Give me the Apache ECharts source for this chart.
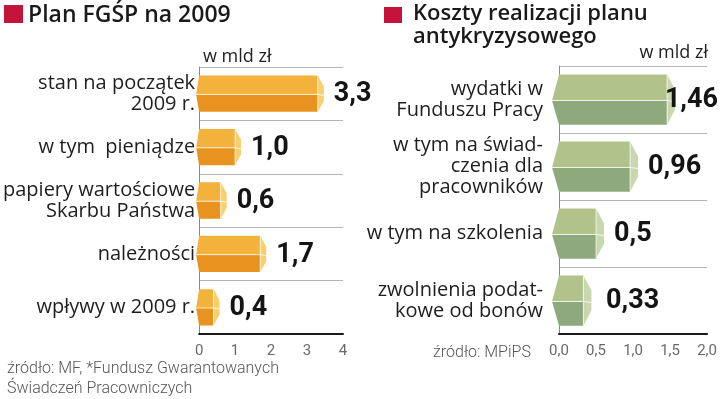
<!DOCTYPE html>
<html><head><meta charset="utf-8">
<script src="https://cdn.jsdelivr.net/npm/echarts@6/dist/echarts.min.js"></script>
<style>html,body{margin:0;padding:0;background:#fff}#c{width:720px;height:399px}</style>
</head><body><div id="c"></div>
<script>
// ---- data ----
const leftTitle = 'Plan FGŚP na 2009';
const leftCategories = ['stan na początek\n2009 r.', 'w tym  pieniądze', 'papiery wartościowe\nSkarbu Państwa', 'należności', 'wpływy w 2009 r.'];
const leftValues = [3.3, 1.0, 0.6, 1.7, 0.4];
const leftValueLabels = ['3,3', '1,0', '0,6', '1,7', '0,4'];
const leftTicks = ['0', '1', '2', '3', '4'];

const rightTitle1 = 'Koszty realizacji planu';
const rightTitle2 = 'antykryzysowego';
const rightCategories = ['wydatki w\nFunduszu Pracy', 'w tym na świad-\nczenia dla\npracowników', 'w tym na szkolenia', 'zwolnienia podat-\nkowe od bonów'];
const rightValues = [1.46, 0.96, 0.5, 0.33];
const rightValueLabels = ['1,46', '0,96', '0,5', '0,33'];
const rightTicks = ['0,0', '0,5', '1,0', '1,5', '2,0'];

const unitText = 'w mld zł';
const leftSource1 = 'źródło: MF, *Fundusz Gwarantowanych';
const leftSource2 = 'Świadczeń Pracowniczych';
const rightSource = 'źródło: MPiPS';

// ---- rendering ----
const CATFONT = '"Open Sans", Roboto, sans-serif';
const TICKFONT = 'Roboto, "Noto Sans", sans-serif';
const VALFONT = 'bold 27px Roboto, sans-serif';
const TITLEFONT = '600 22px "Open Sans", Roboto, sans-serif';
const mctx = document.createElement('canvas').getContext('2d');
mctx.font = VALFONT;

function makeRender(o, labels) {
  return function (params, api) {
    const v = api.value(0), c = api.value(1);
    const s = api.coord([0, c]);
    const e = api.coord([v, c]);
    const band = api.size([0, 1])[1];
    const h = band * o.hr;
    const yt = s[1] - h / 2, yb = s[1] + h / 2, ym = yt + h * 0.52;
    const x0 = s[0], xe = e[0], d = o.cap, k = o.k;
    const txt = labels[params.dataIndex];
    const w = mctx.measureText(txt).width;
    let tx = xe + d + o.gap;
    tx = Math.max(tx, o.minX || 0);
    tx = Math.min(tx, o.maxX - w);
    return {
      type: 'group',
      children: [
        { type: 'polygon', shape: { points: [[x0, yt], [xe, yt], [xe, ym], [x0 - k, ym]] }, style: { fill: o.top } },
        { type: 'polygon', shape: { points: [[x0 - k, ym], [xe, ym], [xe, yb], [x0, yb]] }, style: { fill: o.bot } },
        { type: 'polygon', shape: { points: [[xe, yt], [xe + d, yt + h * 0.3], [xe + d, yb - h * 0.3], [xe, yb]] }, style: { fill: o.capc } },
        { type: 'polyline', shape: { points: [[x0 - k, ym], [xe, ym], [xe + d, ym + 1]] }, style: { stroke: 'rgba(255,255,255,0.8)', lineWidth: 1, fill: null } },
        { type: 'line', shape: { x1: xe, y1: yt, x2: xe, y2: yb }, style: { stroke: 'rgba(255,255,255,0.7)', lineWidth: 1 } },
        { type: 'text', style: { x: tx, y: s[1] + 1, text: txt, font: VALFONT, fill: '#141414', textAlign: 'left', textVerticalAlign: 'middle' } }
      ]
    };
  };
}

const catAxisCommon = (margin) => ({
  type: 'category', inverse: true,
  axisLine: { show: true, lineStyle: { color: '#8a8a8a', width: 1 } },
  axisTick: { show: false },
  splitLine: { show: true, lineStyle: { color: '#b4b4b4', width: 1 } },
  axisLabel: { color: '#1e1e1e', fontSize: 20, lineHeight: 21, fontFamily: CATFONT, margin: margin, align: 'right' }
});

const valAxisCommon = (max, interval, ticks) => ({
  type: 'value', min: 0, max: max, interval: interval,
  axisLine: { show: true, lineStyle: { color: '#1a1a1a', width: 2 } },
  axisTick: { show: false },
  splitLine: { show: false },
  axisLabel: { color: '#6a6a6a', fontSize: 15, fontFamily: TICKFONT, margin: 10, formatter: (val, i) => ticks[i] }
});

const chart = echarts.init(document.getElementById('c'), null, { renderer: 'canvas' });
chart.setOption({
  animation: false,
  backgroundColor: '#ffffff',
  grid: [
    { left: 197, top: 67, width: 146, height: 267 },
    { left: 559, top: 66, width: 149, height: 268 }
  ],
  xAxis: [
    Object.assign({ gridIndex: 0 }, valAxisCommon(4, 1, leftTicks)),
    Object.assign({ gridIndex: 1 }, valAxisCommon(2, 0.5, rightTicks))
  ],
  yAxis: [
    Object.assign({ gridIndex: 0, data: leftCategories }, catAxisCommon(4)),
    Object.assign({ gridIndex: 1, data: rightCategories }, catAxisCommon(16))
  ],
  series: [
    {
      type: 'custom', xAxisIndex: 0, yAxisIndex: 0,
      encode: { x: 0, y: 1 },
      data: leftValues.map((v, i) => [v, i]),
      renderItem: makeRender({ hr: 0.68, cap: 6, k: 3, gap: 10, maxX: 718, top: '#f3b23c', bot: '#e8921f', capc: '#f8cf6d' }, leftValueLabels)
    },
    {
      type: 'custom', xAxisIndex: 1, yAxisIndex: 1,
      encode: { x: 0, y: 1 },
      data: rightValues.map((v, i) => [v, i]),
      renderItem: makeRender({ hr: 0.75, cap: 8, k: 7, gap: 10, minX: 606, maxX: 718, top: '#b1c28b', bot: '#8eaa7c', capc: '#c9d7af' }, rightValueLabels)
    }
  ],
  graphic: [
    { type: 'rect', shape: { x: 4, y: 5, width: 19, height: 18 }, style: { fill: '#c4143c' } },
    { type: 'text', style: { x: 28, y: 15, text: leftTitle, font: '600 23px "Open Sans", Roboto, sans-serif', fill: '#1a1a1a', textVerticalAlign: 'middle' } },
    { type: 'rect', shape: { x: 384, y: 7, width: 18, height: 16 }, style: { fill: '#c4143c' } },
    { type: 'text', style: { x: 413, y: 14, text: rightTitle1, font: TITLEFONT, fill: '#1a1a1a', textVerticalAlign: 'middle' } },
    { type: 'text', style: { x: 413, y: 37, text: rightTitle2, font: TITLEFONT, fill: '#1a1a1a', textVerticalAlign: 'middle' } },
    { type: 'text', style: { x: 203, y: 57, text: unitText, font: '18px "Open Sans", Roboto, sans-serif', fill: '#222', textVerticalAlign: 'middle' } },
    { type: 'text', style: { x: 708, y: 53, text: unitText, font: '18px "Open Sans", Roboto, sans-serif', fill: '#222', textAlign: 'right', textVerticalAlign: 'middle' } },
    { type: 'text', style: { x: 7, y: 369, text: leftSource1, font: '300 16px Roboto, sans-serif', fill: '#555', textVerticalAlign: 'middle' } },
    { type: 'text', style: { x: 7, y: 389, text: leftSource2, font: '300 16px Roboto, sans-serif', fill: '#555', textVerticalAlign: 'middle' } },
    { type: 'text', style: { x: 433, y: 353, text: rightSource, font: '300 16px Roboto, sans-serif', fill: '#555', textVerticalAlign: 'middle' } }
  ]
});
</script></body></html>
